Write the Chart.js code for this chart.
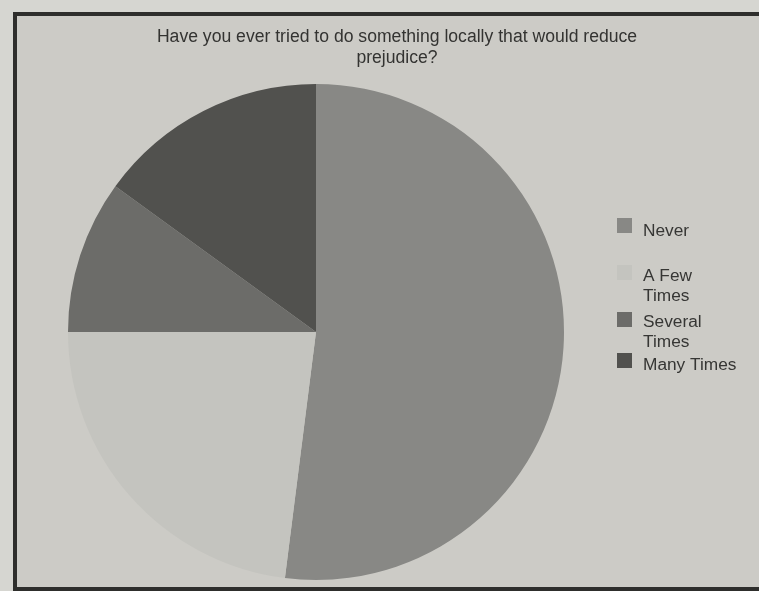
<!DOCTYPE html>
<html lang="en">
<head>
<meta charset="utf-8">
<script src="https://cdn.jsdelivr.net/npm/chart.js"></script>
<style>
    html, body {
        margin: 0;
        padding: 0;
        width: 759px;
        height: 591px;
        overflow: hidden;
        background-color: #d6d6d1;
    }
    .frame {
        position: absolute;
        left: 13px;
        top: 12px;
        width: 780px;
        height: 571px;
        border: 4px solid #2e2e2c;
        background-color: #cccbc6;
    }
    .wrap {
        position: absolute;
        left: 0;
        top: 0;
        width: 759px;
        height: 591px;
    }
</style>
</head>
<body>
<div class="frame"></div>
<div class="wrap"><canvas id="pie"></canvas></div>

<script>
// data (percent)
const labels = ['Never', 'A Few Times', 'Several Times', 'Many Times'];
const values = [52, 23, 10, 15];
const colors = ['#888885', '#c4c4bf', '#6c6c69', '#51514e'];
// legend text wraps the same way as in the print
const legendLines = [['Never'], ['A Few', 'Times'], ['Several', 'Times'], ['Many Times']];
const titleLines = ['Have you ever tried to do something locally that would reduce', 'prejudice?'];

// title + legend drawn by hand so the pie can sit left of centre
const paperText = {
    id: 'paperText',
    afterDraw(chart) {
        const ctx = chart.ctx;
        const ds = chart.data.datasets[0];
        ctx.save();
        ctx.font = '17.6px "Liberation Sans", Arial, sans-serif';
        ctx.fillStyle = '#333331';
        ctx.textAlign = 'center';
        ctx.textBaseline = 'middle';
        titleLines.forEach((t, i) => ctx.fillText(t, 397, 37 + i * 21));

        const boxTop = [218, 265, 312, 353];
        const textTop = [231, 276, 322, 365];
        ctx.font = '17.3px "Liberation Sans", Arial, sans-serif';
        ctx.textAlign = 'left';
        chart.data.labels.forEach((lab, i) => {
            ctx.fillStyle = ds.backgroundColor[i];
            ctx.fillRect(617, boxTop[i], 15, 15);
            ctx.fillStyle = '#363634';
            legendLines[i].forEach((line, j) => ctx.fillText(line, 643, textTop[i] + j * 20.5));
        });
        ctx.restore();
    }
};

const ctx = document.getElementById('pie').getContext('2d');
const chart = new Chart(ctx, {
    type: 'pie',
    data: {
        labels: labels,
        datasets: [{
            data: values,
            backgroundColor: colors,
            borderWidth: 0
        }]
    },
    options: {
        responsive: true,
        maintainAspectRatio: false,
        animation: false,
        layout: {
            padding: { top: 84, bottom: 11, left: 68, right: 195 }
        },
        plugins: {
            legend: { display: false },
            tooltip: { enabled: false },
            title: { display: false }
        }
    },
    plugins: [paperText]
});
</script>
</body>
</html>
